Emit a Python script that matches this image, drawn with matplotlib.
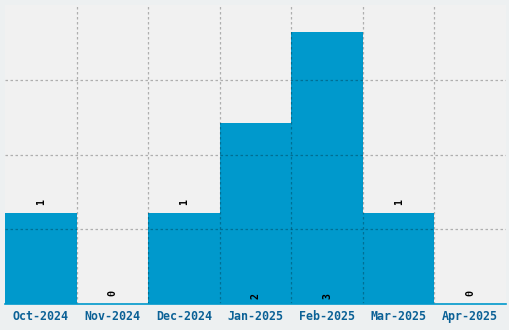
import matplotlib
matplotlib.use("Agg")
import matplotlib.pyplot as plt
import numpy as np

months = ["Oct-2024", "Nov-2024", "Dec-2024", "Jan-2025", "Feb-2025", "Mar-2025", "Apr-2025"]
counts = [1, 0, 1, 2, 3, 1, 0]

bar_color = "#0099cc"
label_color = "#0b6196"

fig = plt.figure(figsize=(5.1, 3.3), dpi=100)
fig.patch.set_facecolor("#edf0f1")
ax = fig.add_axes([5 / 510, 26 / 330, 501 / 510, 299 / 330])
ax.set_facecolor("#f1f1f1")

x = np.arange(len(months))
ax.bar(x, counts, width=1.0, color=bar_color, zorder=1)

ymax = 3.3
ax.set_xlim(-0.5, len(months) - 0.5)
ax.set_ylim(0, ymax)

# grid: category boundaries + 4 equal rows, drawn over the bars
ax.set_xticks(x)
ax.set_xticks(x[:-1] + 0.5, minor=True)
ax.set_yticks(np.linspace(0, ymax, 5)[:-1])
ax.set_yticklabels([])
ax.grid(True, which="minor", axis="x", color="black", alpha=0.27,
        linestyle=(0, (2, 2)), linewidth=0.9, zorder=3)
ax.grid(True, which="major", axis="y", color="black", alpha=0.27,
        linestyle=(0, (2, 2)), linewidth=0.9, zorder=3)
ax.set_axisbelow(False)
ax.tick_params(which="both", length=0)
ax.tick_params(axis="x", pad=4)
ax.set_xticklabels(months, family="DejaVu Sans Mono", fontweight="bold",
                   fontsize=8.4, color=label_color)

for s in ["top", "left", "right"]:
    ax.spines[s].set_visible(False)
ax.spines["bottom"].set_color(bar_color)
ax.spines["bottom"].set_linewidth(1.2)
ax.spines["bottom"].set_zorder(4)

for xi, v in zip(x, counts):
    if v == 1:
        y, off = v, 11
    elif v == 0:
        y, off = 0, 11
    else:
        y, off = 0, 8
    ax.annotate(str(v), (xi, y), xytext=(0, off), textcoords="offset pixels",
                rotation=90, ha="center", va="center", fontsize=7.2,
                fontweight="bold", family="DejaVu Sans Mono", color="black",
                zorder=5)

fig.savefig("out.png", dpi=100, facecolor=fig.get_facecolor())
